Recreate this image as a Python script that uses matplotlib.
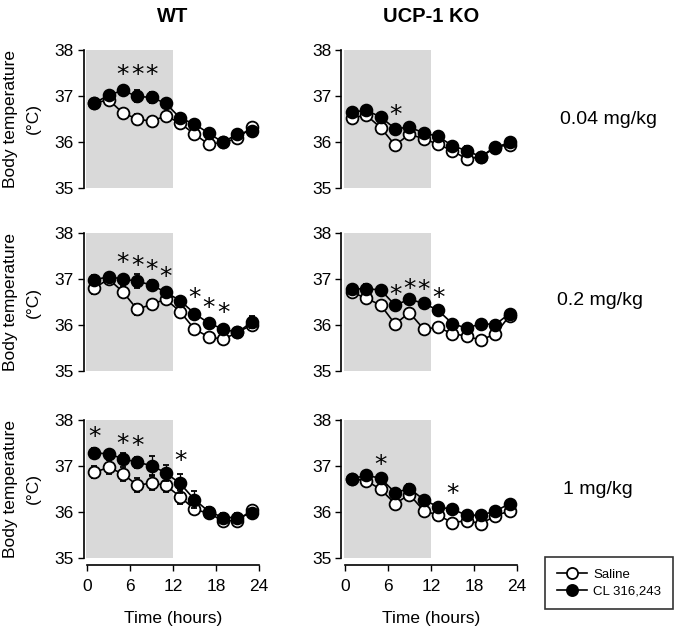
import matplotlib.pyplot as plt
from matplotlib.lines import Line2D
import numpy as np

plt.rcParams['font.family'] = ['Liberation Sans', 'DejaVu Sans']

hours = [1, 3, 5, 7, 9, 11, 13, 15, 17, 19, 21, 23]

# WT 0.04 mg/kg
wt_004_sal = [36.84, 36.92, 36.63, 36.50, 36.45, 36.57, 36.41, 36.17, 35.95, 35.99, 36.08, 36.32]
wt_004_sal_err = [0.05, 0.05, 0.07, 0.10, 0.06, 0.05, 0.05, 0.05, 0.08, 0.05, 0.05, 0.05]
wt_004_cl = [36.84, 37.02, 37.12, 36.99, 36.97, 36.84, 36.52, 36.39, 36.19, 35.99, 36.18, 36.24]
wt_004_cl_err = [0.05, 0.05, 0.10, 0.13, 0.12, 0.06, 0.05, 0.06, 0.06, 0.05, 0.05, 0.05]
wt_004_star = [5, 7, 9]
wt_004_star_y = [37.45, 37.45, 37.45]

# UCP-1 KO 0.04 mg/kg
ko_004_sal = [36.53, 36.58, 36.31, 35.93, 36.17, 36.07, 35.95, 35.81, 35.63, 35.68, 35.90, 35.93]
ko_004_sal_err = [0.05, 0.05, 0.08, 0.07, 0.10, 0.05, 0.08, 0.08, 0.10, 0.05, 0.05, 0.05]
ko_004_cl = [36.65, 36.69, 36.54, 36.29, 36.32, 36.20, 36.12, 35.92, 35.81, 35.68, 35.88, 35.99]
ko_004_cl_err = [0.06, 0.06, 0.08, 0.05, 0.06, 0.05, 0.05, 0.05, 0.10, 0.05, 0.05, 0.05]
ko_004_star = [7]
ko_004_star_y = [36.59]

# WT 0.2 mg/kg
wt_02_sal = [36.80, 37.00, 36.72, 36.34, 36.45, 36.56, 36.29, 35.91, 35.74, 35.69, 35.84, 36.00]
wt_02_sal_err = [0.13, 0.06, 0.12, 0.12, 0.10, 0.05, 0.06, 0.06, 0.08, 0.05, 0.05, 0.08]
wt_02_cl = [36.98, 37.05, 37.00, 36.95, 36.87, 36.71, 36.53, 36.25, 36.04, 35.91, 35.84, 36.06]
wt_02_cl_err = [0.10, 0.06, 0.08, 0.15, 0.10, 0.08, 0.07, 0.06, 0.06, 0.06, 0.08, 0.13]
wt_02_star = [5, 7, 9, 11, 15, 17, 19]
wt_02_star_y = [37.35, 37.28, 37.19, 37.04, 36.59, 36.36, 36.26]

# UCP-1 KO 0.2 mg/kg
ko_02_sal = [36.71, 36.58, 36.43, 36.02, 36.27, 35.91, 35.95, 35.81, 35.76, 35.67, 35.81, 36.20]
ko_02_sal_err = [0.05, 0.05, 0.05, 0.08, 0.06, 0.10, 0.05, 0.08, 0.05, 0.05, 0.05, 0.05]
ko_02_cl = [36.78, 36.79, 36.76, 36.43, 36.56, 36.47, 36.32, 36.03, 35.93, 36.03, 36.01, 36.25]
ko_02_cl_err = [0.06, 0.10, 0.05, 0.06, 0.06, 0.08, 0.05, 0.05, 0.05, 0.05, 0.05, 0.05]
ko_02_star = [7, 9, 11, 13]
ko_02_star_y = [36.66, 36.79, 36.76, 36.59]

# WT 1 mg/kg
wt_1_sal = [36.86, 36.97, 36.83, 36.58, 36.63, 36.58, 36.33, 36.06, 35.97, 35.81, 35.81, 36.04]
wt_1_sal_err = [0.13, 0.15, 0.15, 0.15, 0.15, 0.15, 0.15, 0.08, 0.08, 0.10, 0.08, 0.10]
wt_1_cl = [37.29, 37.26, 37.16, 37.08, 37.01, 36.85, 36.62, 36.27, 36.01, 35.88, 35.88, 35.97]
wt_1_cl_err = [0.10, 0.06, 0.12, 0.12, 0.20, 0.18, 0.20, 0.18, 0.10, 0.10, 0.10, 0.08]
wt_1_star = [1, 5, 7, 13]
wt_1_star_y = [37.62, 37.47, 37.44, 37.11]

# UCP-1 KO 1 mg/kg
ko_1_sal = [36.72, 36.68, 36.49, 36.18, 36.38, 36.03, 35.93, 35.77, 35.81, 35.75, 35.91, 36.03]
ko_1_sal_err = [0.07, 0.07, 0.06, 0.06, 0.06, 0.06, 0.08, 0.05, 0.06, 0.08, 0.06, 0.05]
ko_1_cl = [36.72, 36.80, 36.73, 36.42, 36.51, 36.27, 36.11, 36.06, 35.93, 35.93, 36.02, 36.18]
ko_1_cl_err = [0.07, 0.05, 0.07, 0.05, 0.10, 0.05, 0.05, 0.05, 0.05, 0.05, 0.05, 0.05]
ko_1_star = [5, 15]
ko_1_star_y = [37.02, 36.39]

panels = [
    [(wt_004_sal, wt_004_sal_err, wt_004_cl, wt_004_cl_err, wt_004_star, wt_004_star_y),
     (ko_004_sal, ko_004_sal_err, ko_004_cl, ko_004_cl_err, ko_004_star, ko_004_star_y)],
    [(wt_02_sal, wt_02_sal_err, wt_02_cl, wt_02_cl_err, wt_02_star, wt_02_star_y),
     (ko_02_sal, ko_02_sal_err, ko_02_cl, ko_02_cl_err, ko_02_star, ko_02_star_y)],
    [(wt_1_sal, wt_1_sal_err, wt_1_cl, wt_1_cl_err, wt_1_star, wt_1_star_y),
     (ko_1_sal, ko_1_sal_err, ko_1_cl, ko_1_cl_err, ko_1_star, ko_1_star_y)],
]
col_titles = ['WT', 'UCP-1 KO']
doses = ['0.04 mg/kg', '0.2 mg/kg', '1 mg/kg']

W, H = 675, 627
fig = plt.figure(figsize=(W / 100, H / 100), dpi=100)

col_left = [83.5, 341.4]
ax_w = 179
row_top = [50, 233, 420]
ax_h = 138

for r in range(3):
    for c in range(2):
        sal, sal_e, cl, cl_e, st, st_y = panels[r][c]
        ax = fig.add_axes([col_left[c] / W, 1 - (row_top[r] + ax_h) / H, ax_w / W, ax_h / H])
        ax.axvspan(-0.2, 12, color='#d9d9d9', lw=0, zorder=0)
        ax.errorbar(hours, sal, yerr=sal_e, fmt='-o', color='black', mfc='white', mec='black',
                    ms=8.5, mew=1.3, lw=1.2, elinewidth=0.9, capsize=2.5, zorder=3)
        ax.errorbar(hours, cl, yerr=cl_e, fmt='-o', color='black', mfc='black', mec='black',
                    ms=8.5, mew=1.3, lw=1.2, elinewidth=0.9, capsize=2.5, zorder=4)
        for sx, sy in zip(st, st_y):
            ax.text(sx, sy, '*', fontsize=18, ha='center', va='center', family='DejaVu Sans')
        ax.set_xlim(-0.5, 24.5)
        ax.set_ylim(35, 38)
        ax.set_yticks([35, 36, 37, 38])
        ax.tick_params(axis='y', labelsize=12.5, length=4, width=1, pad=3)
        for s in ['top', 'right']:
            ax.spines[s].set_visible(False)
        ax.spines['left'].set_bounds(35, 38)
        ax.spines['left'].set_linewidth(1.2)
        if r == 2:
            ax.spines['bottom'].set_position(('outward', 5))
            ax.spines['bottom'].set_bounds(0, 24)
            ax.spines['bottom'].set_linewidth(1.2)
            ax.set_xticks([0, 6, 12, 18, 24])
            ax.tick_params(axis='x', labelsize=12.5, length=4, width=1, pad=6)
            ax.set_xlabel('Time (hours)', fontsize=12.5, labelpad=12)
        else:
            ax.spines['bottom'].set_visible(False)
            ax.set_xticks([])
        if c == 0:
            ax.set_ylabel('Body temperature\n(°C)', fontsize=12.5, labelpad=10, linespacing=1.6)
        if r == 0:
            ax.set_title(col_titles[c], fontsize=14.5, fontweight='bold', pad=20)

fig.text(608 / W, 1 - 120 / H, doses[0], fontsize=14, ha='center', va='center')
fig.text(600 / W, 1 - 300 / H, doses[1], fontsize=14, ha='center', va='center')
fig.text(598 / W, 1 - 490 / H, doses[2], fontsize=14, ha='center', va='center')

h1 = Line2D([], [], color='black', marker='o', mfc='white', mec='black', ms=8, mew=1.3, lw=1.2)
h2 = Line2D([], [], color='black', marker='o', mfc='black', mec='black', ms=8, mew=1.3, lw=1.2)
leg = fig.legend([h1, h2], ['Saline', 'CL 316,243'], loc='center',
                 bbox_to_anchor=(609 / W, 1 - 583 / H),
                 fontsize=9.5, frameon=True, fancybox=False, edgecolor='black',
                 handlelength=2.3, handletextpad=0.5, borderpad=0.9, labelspacing=0.3,
                 borderaxespad=0)
leg.get_frame().set_linewidth(1.2)

fig.savefig('out.png', dpi=100)
